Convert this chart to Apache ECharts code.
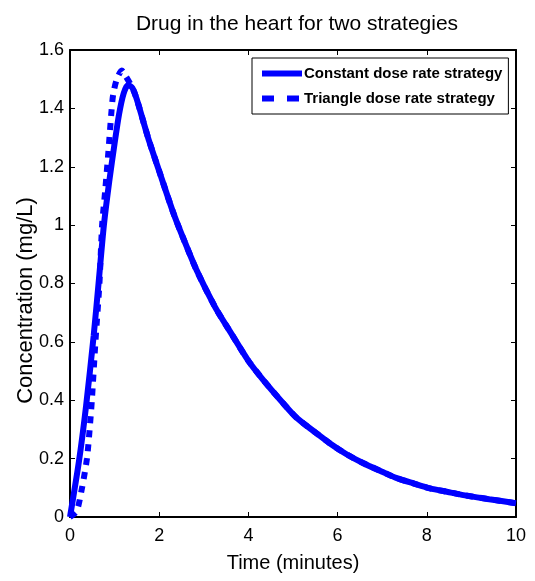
<!DOCTYPE html>
<html>
<head>
<meta charset="utf-8">
<script src="https://cdn.jsdelivr.net/npm/echarts@6/dist/echarts.min.js"></script>
<style>
  html, body { margin: 0; padding: 0; background: #fff; }
  #chart { width: 535px; height: 581px; }
</style>
</head>
<body>
<div id="chart"></div>
<script>
// time (minutes) and concentration (mg/L)
const timeConstant = [0, 0.2, 0.36, 0.53, 0.64, 0.76, 0.88, 1.0, 1.1, 1.2, 1.3, 1.4, 1.5, 1.75, 2.0, 2.31, 2.5, 2.84, 3.25, 3.59, 4.0, 4.33, 4.75, 5.08, 5.5, 5.83, 6.2, 6.58, 7.0, 7.33, 7.7, 8.07, 8.5, 8.82, 9.4, 10];
const concConstant = [0, 0.19, 0.38, 0.62, 0.8, 1.0, 1.15, 1.28, 1.38, 1.45, 1.48, 1.47, 1.43, 1.30, 1.185, 1.045, 0.97, 0.845, 0.72, 0.635, 0.535, 0.47, 0.395, 0.34, 0.29, 0.252, 0.215, 0.184, 0.155, 0.133, 0.115, 0.098, 0.085, 0.075, 0.061, 0.047];

// the dashed curve is hidden under the solid one after about 1.4 min
const timeTriangle = [0, 0.15, 0.27, 0.38, 0.44, 0.49, 0.57, 0.66, 0.72, 0.79, 0.86, 0.93, 0.97, 1.05, 1.16, 1.25, 1.4, 1.5, 1.75, 2.0, 2.31, 2.5, 2.84, 3.25, 3.59, 4.0, 4.33, 4.75, 5.08, 5.5, 5.83, 6.2, 6.58, 7.0, 7.33, 7.7, 8.07, 8.5, 8.82, 9.4, 10];
const concTriangle = [0, 0.02, 0.1, 0.2, 0.3, 0.4, 0.6, 0.8, 1.0, 1.12, 1.25, 1.39, 1.45, 1.50, 1.53, 1.51, 1.47, 1.43, 1.30, 1.185, 1.045, 0.97, 0.845, 0.72, 0.635, 0.535, 0.47, 0.395, 0.34, 0.29, 0.252, 0.215, 0.184, 0.155, 0.133, 0.115, 0.098, 0.085, 0.075, 0.061, 0.047];

const seriesNames = ["Constant dose rate strategy", "Triangle dose rate strategy"];
const xTicks = [0, 10, 2];   // min, max, step
const yTicks = [0, 1.6, 0.2];

const font = "Liberation Sans";
const blue = "#0000ff";
const dash = [7, 7];

const chart = echarts.init(document.getElementById("chart"));

const boxAxis = {
  axisLine: { show: true, onZero: false, lineStyle: { color: "#000", width: 2 } },
  axisTick: { show: true, inside: true, length: 5, lineStyle: { color: "#000", width: 1 } },
  splitLine: { show: false }
};

chart.setOption({
  animation: false,
  title: {
    text: "Drug in the heart for two strategies",
    left: 292,
    textAlign: "center",
    top: 9,
    textStyle: { fontFamily: font, fontSize: 21, fontWeight: "normal", color: "#000" }
  },
  grid: { left: 70, right: 19, top: 50, bottom: 64, containLabel: false },
  legend: {
    data: [
      { name: seriesNames[0], lineStyle: { width: 6, type: "solid" } },
      { name: seriesNames[1], lineStyle: { width: 6, type: [12, 13], cap: "butt" } }
    ],
    orient: "vertical",
    left: 252,
    top: 58,
    padding: [8, 6, 8, 7],
    itemGap: 10,
    itemWidth: 40,
    itemHeight: 17,
    itemStyle: { opacity: 0 },
    backgroundColor: "#fff",
    borderColor: "#000",
    borderWidth: 1,
    textStyle: { fontFamily: font, fontSize: 15, fontWeight: "bold", color: "#000", padding: [0, 0, 0, -3] }
  },
  xAxis: [
    Object.assign({}, boxAxis, {
      type: "value",
      min: xTicks[0], max: xTicks[1], interval: xTicks[2],
      name: "Time (minutes)",
      nameLocation: "middle",
      nameGap: 36,
      nameTextStyle: { fontFamily: font, fontSize: 20, color: "#000" },
      axisLabel: { fontFamily: font, fontSize: 18, color: "#000", margin: 10 }
    }),
    Object.assign({}, boxAxis, {
      type: "value", position: "top",
      min: xTicks[0], max: xTicks[1], interval: xTicks[2],
      axisLabel: { show: false }
    })
  ],
  yAxis: [
    Object.assign({}, boxAxis, {
      type: "value",
      min: yTicks[0], max: yTicks[1], interval: yTicks[2],
      name: "Concentration (mg/L)",
      nameLocation: "middle",
      nameGap: 33,
      nameMoveOverlap: false,
      nameTextStyle: { fontFamily: font, fontSize: 22, color: "#000", padding: [0, 34, 0, 0] },
      axisLabel: { fontFamily: font, fontSize: 18, color: "#000", margin: 6 }
    }),
    Object.assign({}, boxAxis, {
      type: "value", position: "right",
      min: yTicks[0], max: yTicks[1], interval: yTicks[2],
      axisLabel: { show: false }
    })
  ],
  series: [
    {
      name: seriesNames[1],
      type: "line",
      data: timeTriangle.map((t, i) => [t, concTriangle[i]]),
      smooth: 0.25,
      showSymbol: false,
      symbol: "none",
      lineStyle: { color: blue, width: 6, type: dash, cap: "butt" },
      itemStyle: { color: blue }
    },
    {
      name: seriesNames[0],
      type: "line",
      data: timeConstant.map((t, i) => [t, concConstant[i]]),
      smooth: 0.25,
      showSymbol: false,
      symbol: "none",
      lineStyle: { color: blue, width: 6 },
      itemStyle: { color: blue }
    }
  ]
});
</script>
</body>
</html>
